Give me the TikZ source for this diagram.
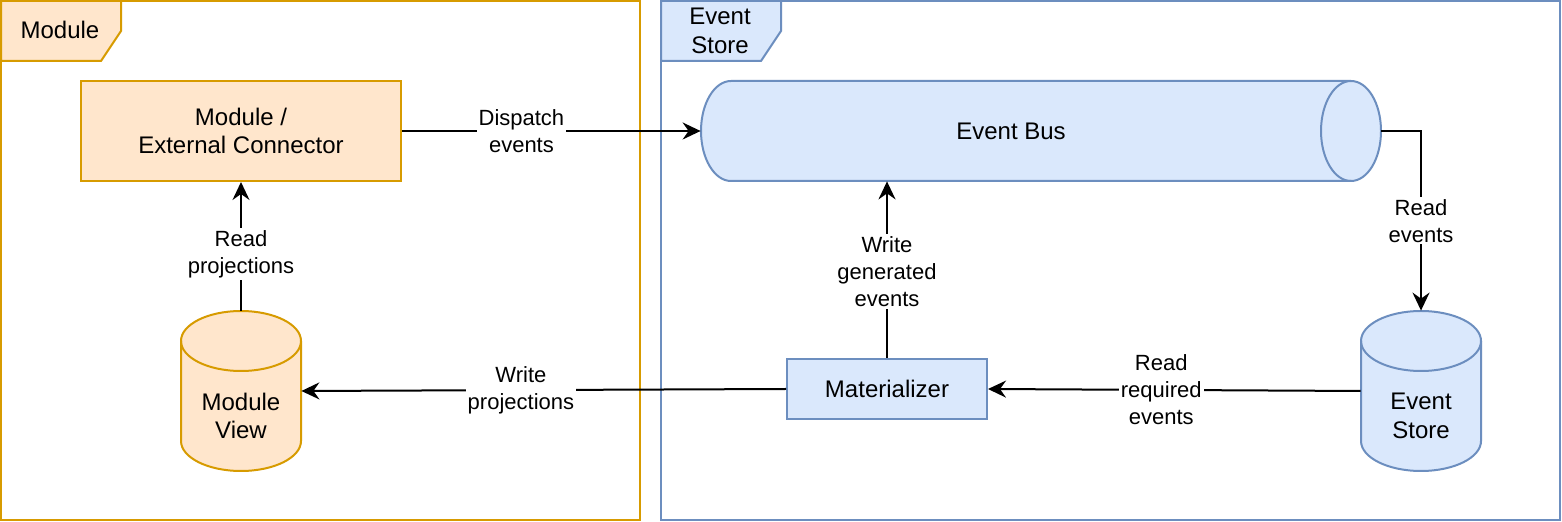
\documentclass[tikz,border=0pt]{standalone}
\usepackage{fontspec}
\setmainfont{Liberation Sans}
\usetikzlibrary{arrows.meta}
\definecolor{orfill}{HTML}{FFE6CC}
\definecolor{orline}{HTML}{D79B00}
\definecolor{blfill}{HTML}{DAE8FC}
\definecolor{blline}{HTML}{6C8EBF}
\tikzset{
  ntext/.style={font=\fontsize{12}{14.4}\selectfont, align=center},
  orbox/.style={draw=orline, fill=orfill, line width=1pt, ntext},
  blbox/.style={draw=blline, fill=blfill, line width=1pt, ntext},
  holder/.style={draw=none, inner sep=0pt},
  conn/.style={line width=1pt, -{Stealth[length=9pt,width=8.5pt,inset=3pt]}},
  elabel/.style={fill=white, inner sep=1pt, font=\fontsize{11}{13.5}\selectfont, align=center},
  frameor/.style={draw=orline, line width=1pt},
  framebl/.style={draw=blline, line width=1pt},
}
\begin{document}
\begin{tikzpicture}[x=0.5pt,y=0.5pt]
\useasboundingbox (0,0) rectangle (1562,-522);
% frames
\draw[frameor, fill=white] (1,-1) rectangle (640,-520);
\draw[frameor, fill=orfill] (1,-1) -- (121,-1) -- (121,-31) -- (101,-61) -- (1,-61) -- cycle;
\node[ntext] (tabm) at (60,-30) {Module};
\draw[framebl, fill=white] (661,-1) rectangle (1560,-520);
\draw[framebl, fill=blfill] (661,-1) -- (781,-1) -- (781,-31) -- (761,-61) -- (661,-61) -- cycle;
\node[ntext] (tabe) at (720,-31) {Event\\Store};
% boxes
\node[orbox, minimum width=160pt, minimum height=50pt] (ext) at (241,-131) {Module /\\External Connector};
\node[blbox, minimum width=100pt, minimum height=30pt] (mat) at (887,-389) {Materializer};
% holders for cylinders
\node[holder, minimum width=60pt, minimum height=80pt] (mv) at (241,-391) {};
\node[holder, minimum width=60pt, minimum height=80pt] (es) at (1421,-391) {};
\node[holder, minimum width=340pt, minimum height=50pt] (bus) at (1041,-131) {};
% Module View cylinder
\draw[orline, fill=orfill, line width=1pt] (181,-341) -- (181,-441)
  arc[start angle=180, end angle=360, x radius=30pt, y radius=15pt] -- (301,-341)
  arc[start angle=0, end angle=180, x radius=30pt, y radius=15pt] -- cycle;
\draw[orline, line width=1pt] (181,-341) arc[start angle=180, end angle=360, x radius=30pt, y radius=15pt];
\node[ntext] (mvt) at (241,-416) {Module\\View};
% Event Store cylinder
\draw[blline, fill=blfill, line width=1pt] (1361,-341) -- (1361,-441)
  arc[start angle=180, end angle=360, x radius=30pt, y radius=15pt] -- (1481,-341)
  arc[start angle=0, end angle=180, x radius=30pt, y radius=15pt] -- cycle;
\draw[blline, line width=1pt] (1361,-341) arc[start angle=180, end angle=360, x radius=30pt, y radius=15pt];
\node[ntext] (est) at (1421,-416) {Event\\Store};
% Event Bus horizontal cylinder
\draw[blline, fill=blfill, line width=1pt] (731,-81) -- (1351,-81)
  arc[start angle=90, end angle=-90, x radius=15pt, y radius=25pt] -- (731,-181)
  arc[start angle=270, end angle=90, x radius=15pt, y radius=25pt] -- cycle;
\draw[blline, line width=1pt] (1351,-81) arc[start angle=90, end angle=270, x radius=15pt, y radius=25pt];
\node[ntext] (bust) at (1011,-131) {Event Bus};
% connectors
\draw[conn] (ext.east) -- node[elabel, pos=0.4] {Dispatch\\events} (bus.west);
\draw[conn] (mv.north) -- node[elabel, pos=0.44] {Read\\projections} (ext.south);
\draw[conn] (mat.west) -- node[elabel, pos=0.547] {Write\\projections} (mv.east);
\draw[conn] (mat.north) -- node[elabel, pos=0.49] {Write\\generated\\events} (mat.north |- bus.south);
\draw[conn] (es.west) -- node[elabel, pos=0.535] {Read\\required\\events} (mat.east);
\draw[conn] (bus.east) -| node[elabel, pos=0.75] {Read\\events} (es.north);
\end{tikzpicture}
\end{document}
